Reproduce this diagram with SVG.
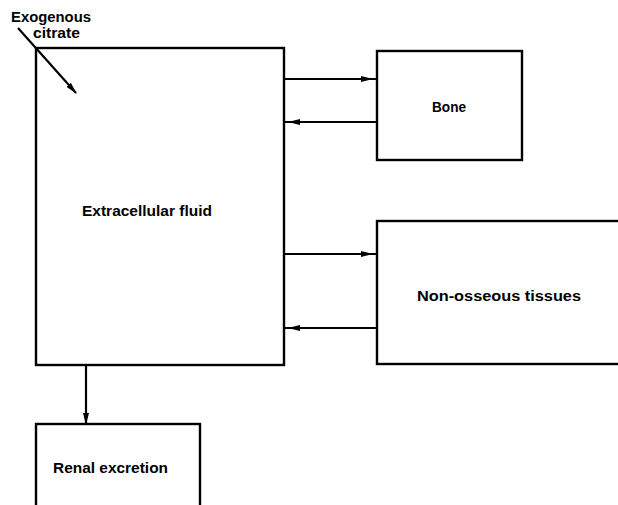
<svg xmlns="http://www.w3.org/2000/svg" width="618" height="505" viewBox="0 0 618 505">
<style>
.box{fill:none;stroke:#000;stroke-width:2.4}
.ln{fill:none;stroke:#000;stroke-width:2.2}
.t{font-family:"Liberation Sans",Arial,sans-serif;font-size:14px;font-weight:bold;fill:#000}
</style>
<defs>
<marker id="ah" viewBox="0 0 12 6" refX="16" refY="3" markerWidth="12" markerHeight="6" markerUnits="userSpaceOnUse" orient="auto">
<path d="M0,0 L12,3 L0,6 Z" fill="#000"/>
</marker>
<marker id="ah0" viewBox="0 0 12 6" refX="11" refY="3" markerWidth="12" markerHeight="6" markerUnits="userSpaceOnUse" orient="auto">
<path d="M0,0 L12,3 L0,6 Z" fill="#000"/>
</marker>
</defs>
<rect width="618" height="505" fill="#fff"/>
<g id="ecf">
<rect class="box" x="36" y="48" width="248" height="317"/>
<text class="t" x="82" y="216" textLength="130" lengthAdjust="spacingAndGlyphs">Extracellular fluid</text>
</g>
<g id="exogenous">
<text class="t" x="11" y="22" textLength="80" lengthAdjust="spacingAndGlyphs">Exogenous</text>
<text class="t" x="33" y="38" textLength="47" lengthAdjust="spacingAndGlyphs">citrate</text>
</g>
<g id="bone">
<rect class="box" x="377" y="51" width="145" height="109"/>
<text class="t" x="432" y="112" textLength="34" lengthAdjust="spacingAndGlyphs">Bone</text>
</g>
<g id="nonosseous">
<rect class="box" x="377" y="221" width="250" height="143"/>
<text class="t" x="417" y="301" textLength="164" lengthAdjust="spacingAndGlyphs">Non-osseous tissues</text>
</g>
<g id="renal">
<rect class="box" x="36" y="424" width="164" height="90"/>
<text class="t" x="53" y="473" textLength="115" lengthAdjust="spacingAndGlyphs">Renal excretion</text>
</g>
<g id="connectors">
<line class="ln" x1="18" y1="28" x2="76" y2="93" marker-end="url(#ah0)"/>
<line class="ln" x1="284" y1="79" x2="377" y2="79" marker-end="url(#ah)"/>
<line class="ln" x1="377" y1="122" x2="284" y2="122" marker-end="url(#ah)"/>
<line class="ln" x1="284" y1="254" x2="377" y2="254" marker-end="url(#ah)"/>
<line class="ln" x1="377" y1="328" x2="284" y2="328" marker-end="url(#ah)"/>
<line class="ln" x1="86" y1="365" x2="86" y2="424" marker-end="url(#ah0)"/>
</g>
</svg>
